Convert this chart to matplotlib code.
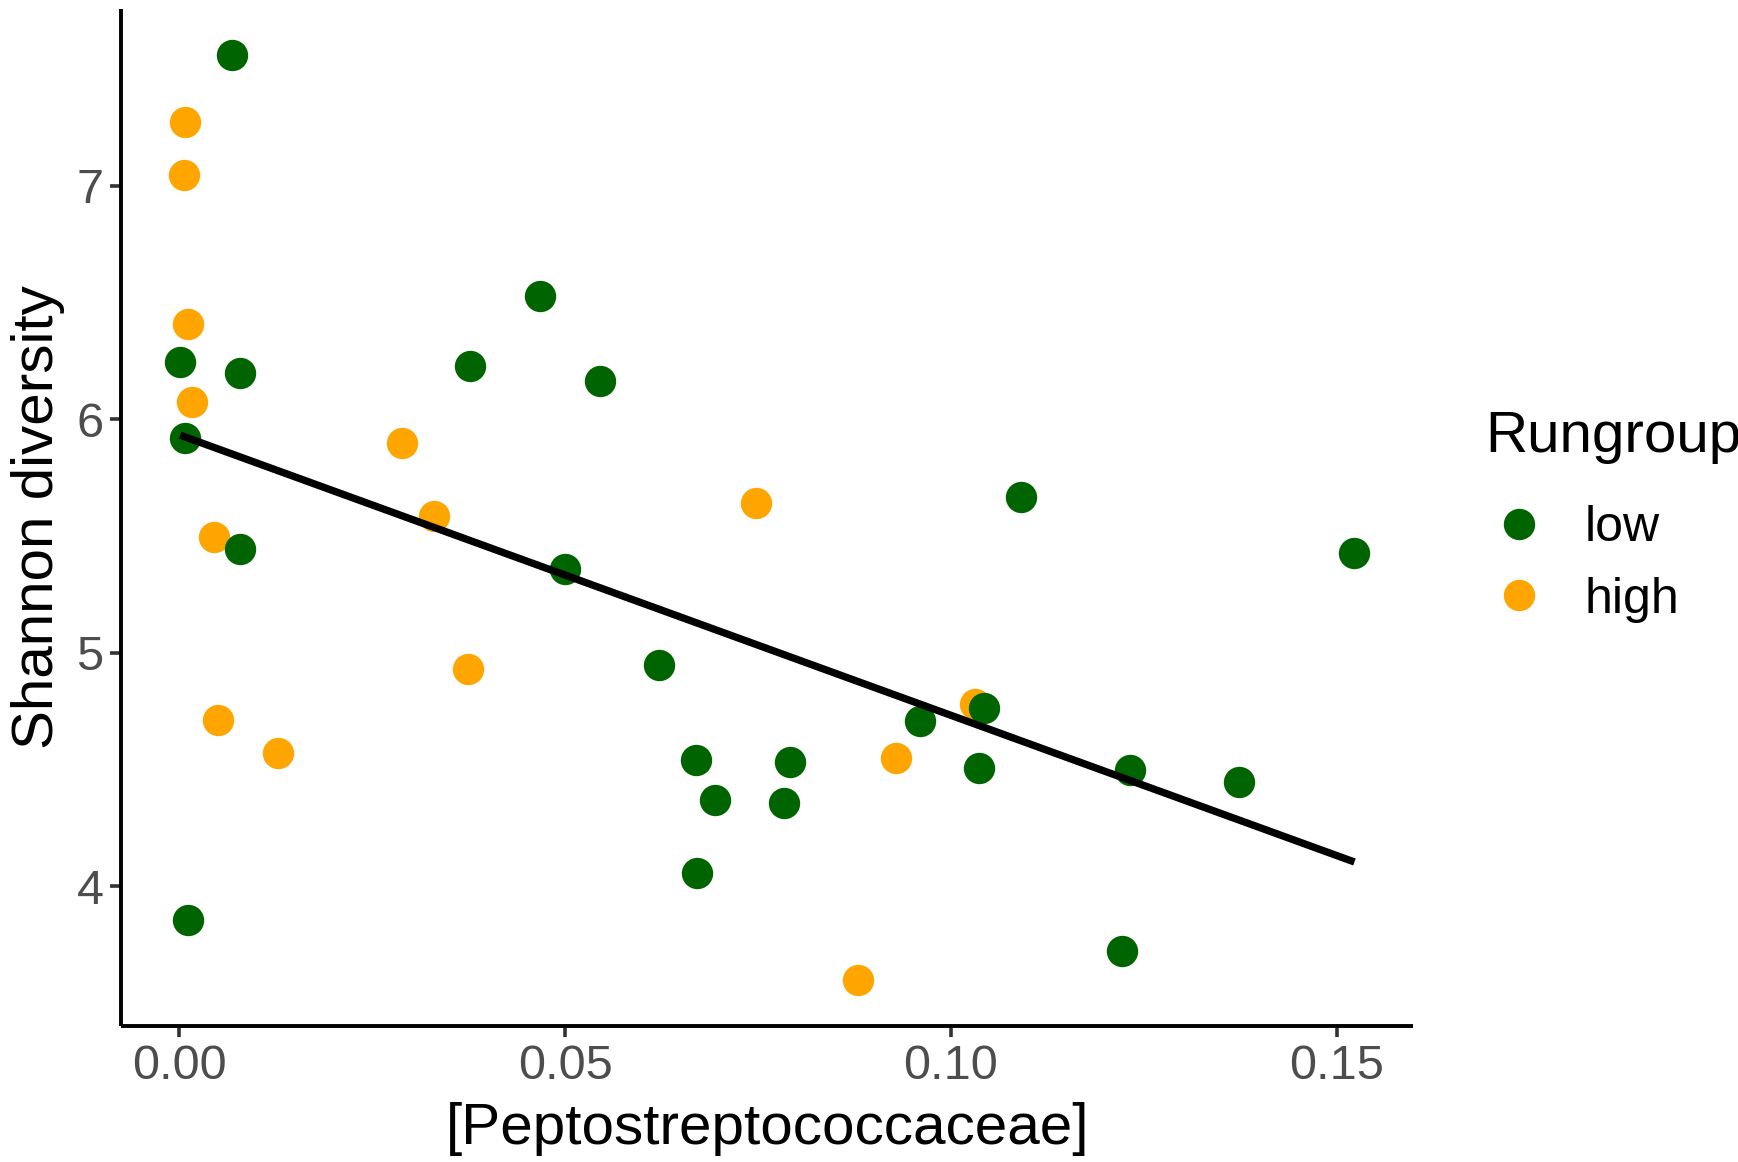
import numpy as np
import matplotlib
matplotlib.use("Agg")
import matplotlib.pyplot as plt
from matplotlib.lines import Line2D

plt.rcParams['font.family'] = ['Liberation Sans', 'DejaVu Sans']

# values
low_x = [0.0068, 0.0001, 0.0079, 0.0007, 0.0078, 0.0011, 0.0468, 0.0376, 0.0545,
         0.0500, 0.0621, 0.0670, 0.0694, 0.0671, 0.0783, 0.0792, 0.0960, 0.1043,
         0.1036, 0.1091, 0.1232, 0.1374, 0.1222, 0.1523]
low_y = [7.559, 6.246, 6.199, 5.919, 5.445, 3.858, 6.526, 6.227, 6.166,
         5.360, 4.948, 4.540, 4.370, 4.057, 4.355, 4.531, 4.708, 4.763,
         4.507, 5.668, 4.499, 4.448, 3.723, 5.427]
high_x = [0.0007, 0.0006, 0.0011, 0.0016, 0.0045, 0.0050, 0.0128, 0.0289, 0.0330,
          0.0374, 0.0747, 0.0879, 0.0929, 0.1031]
high_y = [7.275, 7.047, 6.408, 6.076, 5.498, 4.711, 4.573, 5.900, 5.588,
          4.929, 5.640, 3.600, 4.550, 4.780]

groups = ['low', 'high']
colors = {'low': '#006400', 'high': '#FFA500'}

fig = plt.figure(figsize=(17.38, 11.62), dpi=100)
ax = fig.add_axes([0.0699, 0.1170, 0.8131 - 0.0699, 0.9923 - 0.1170])

# high drawn first so the low points sit on top, like the original
ax.scatter(high_x, high_y, s=510, color=colors['high'], linewidths=0, zorder=2)
ax.scatter(low_x, low_y, s=510, color=colors['low'], linewidths=0, zorder=3)

# lm fit over all points
all_x = np.array(low_x + high_x)
all_y = np.array(low_y + high_y)
slope, icpt = np.polyfit(all_x, all_y, 1)
xs = np.array([all_x.min(), all_x.max()])
ax.plot(xs, icpt + slope * xs, color='black', lw=5.3, solid_capstyle='butt', zorder=4)

# ggplot-like 5% expansion
xr = all_x.max() - all_x.min()
yr = all_y.max() - all_y.min()
ax.set_xlim(all_x.min() - 0.05 * xr, all_x.max() + 0.05 * xr)
ax.set_ylim(all_y.min() - 0.05 * yr, all_y.max() + 0.05 * yr)

ax.set_xticks([0.00, 0.05, 0.10, 0.15])
ax.set_xticklabels(['0.00', '0.05', '0.10', '0.15'])
ax.set_yticks([4, 5, 6, 7])

for s in ['top', 'right']:
    ax.spines[s].set_visible(False)
for s in ['left', 'bottom']:
    ax.spines[s].set_linewidth(2.8)
    ax.spines[s].set_capstyle('butt')
ax.tick_params(length=8, width=2.6, color='#333333', labelsize=35,
               labelcolor='#4D4D4D', pad=5)

ax.set_xlabel('[Peptostreptococcaceae]', fontsize=42, labelpad=9)
ax.set_ylabel('Shannon diversity', fontsize=42, labelpad=8)

# legend: title as its own text, keys below
fig.text(1485 / 1738, 1 - 452 / 1162, 'Rungroup', fontsize=42, va='baseline', ha='left')
handles = [Line2D([], [], marker='o', linestyle='', markersize=22.6,
                  markerfacecolor=colors[g], markeredgewidth=0) for g in groups]
leg = ax.legend(handles, groups, fontsize=36,
                frameon=False, loc='center left',
                bbox_to_anchor=(1485 / 1738, 1 - 564 / 1162),
                bbox_transform=fig.transFigure, borderaxespad=0, borderpad=0,
                handlelength=1.35, handletextpad=0.65, labelspacing=0.51)

fig.savefig('out.png', dpi=100)
